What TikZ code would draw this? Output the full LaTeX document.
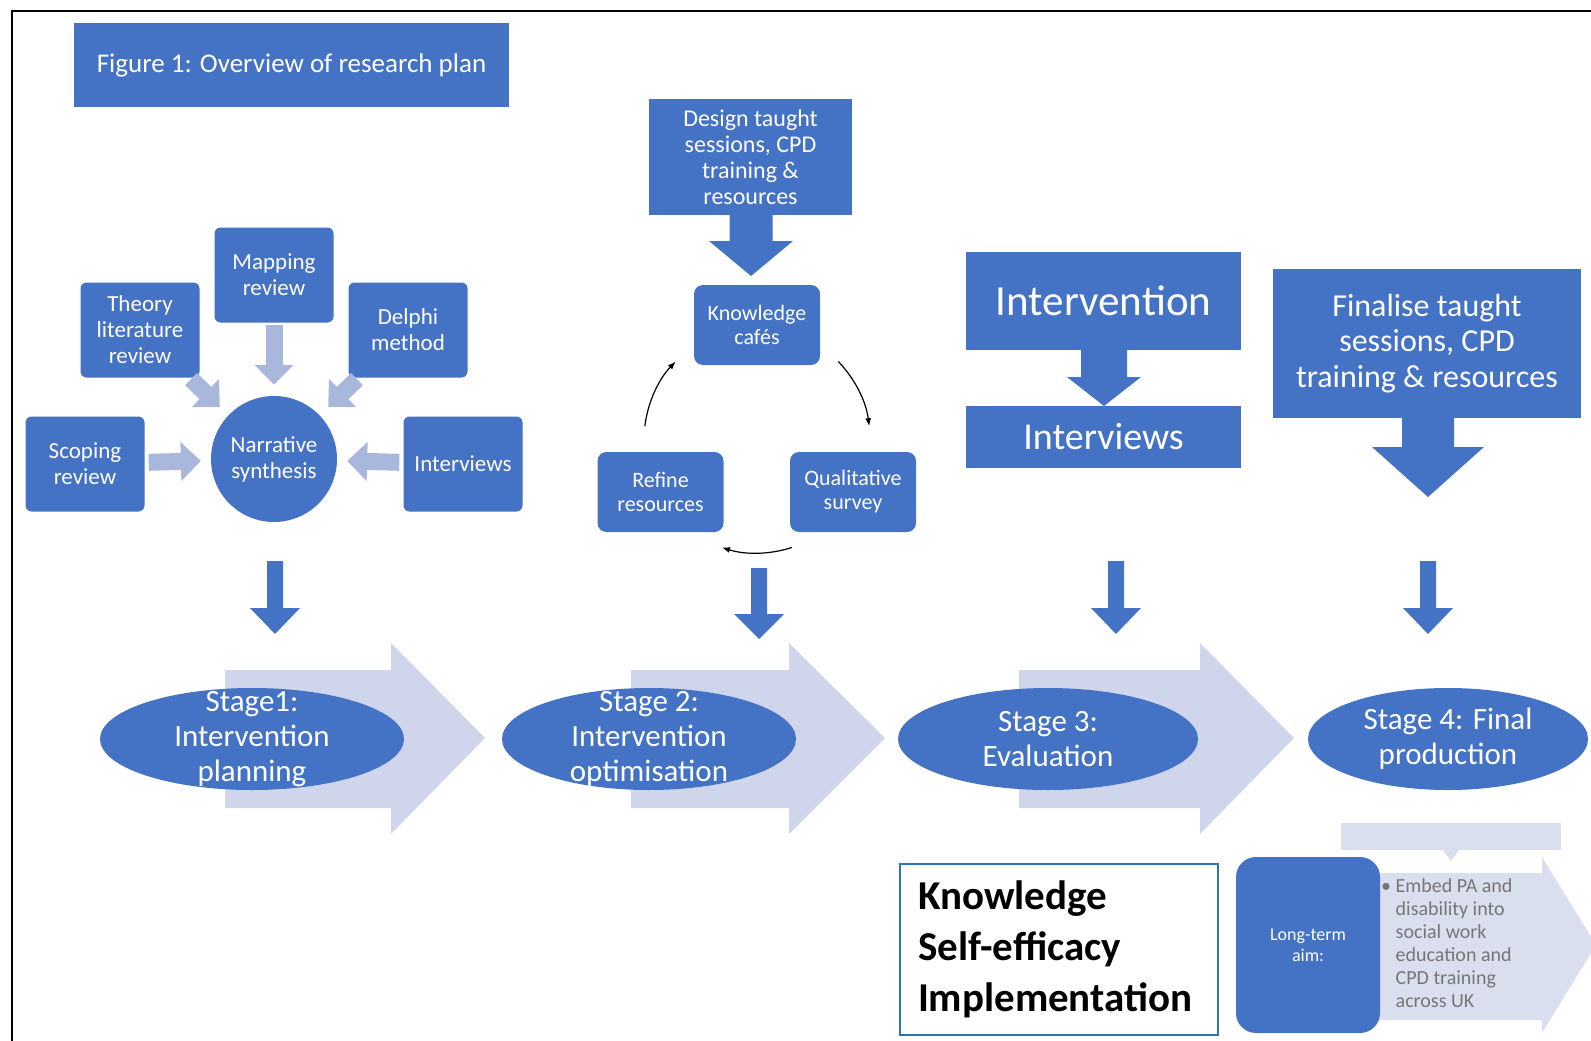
\documentclass[tikz,border=0pt]{standalone}
\usepackage{fontspec}
\setmainfont{Carlito}
\usetikzlibrary{shapes.geometric,arrows.meta}
\definecolor{blau}{RGB}{68,114,196}
\definecolor{grau}{RGB}{170,183,221}
\definecolor{hell}{RGB}{207,213,234}
\definecolor{hellblass}{RGB}{218,223,240}
\definecolor{rahmen}{RGB}{46,117,182}
\definecolor{textgrau}{RGB}{118,118,118}

\def\gr#1#2{\fontsize{#1pt}{#2pt}\selectfont}
% x, top, head start, tip, shaft half width, head half width
\def\blockpfeil#1#2#3#4#5#6{
	\fill[blau] ({#1-#5},#2) -- ({#1+#5},#2) -- ({#1+#5},#3) -- ({#1+#6},#3)
		-- (#1,#4) -- ({#1-#6},#3) -- ({#1-#5},#3) -- cycle;
}
% body start, head start, tip
\def\stufe#1#2#3{
	\fill[hell] (#1,670) -- (#2,670) -- (#2,643) -- (#3,738) -- (#2,834)
		-- (#2,808) -- (#1,808) -- cycle;
}

\begin{document}
\begin{tikzpicture}[x=1pt,y=-1pt,
	box/.style={fill=blau,text=white,align=center,inner sep=0pt},
	kbox/.style={box,rounded corners=6pt,minimum width=119pt,minimum height=95pt,font={\gr{23}{26}}},
	zbox/.style={box,rounded corners=9pt,minimum width=126pt,minimum height=80pt,font={\gr{22}{24}}},
	stage/.style={ellipse,fill=blau,inner sep=0pt,minimum height=102pt},
	stagetext/.style={text=white,align=center,inner sep=0pt,font={\gr{31}{35}}},
	zulauf/.style={grau,line width=17pt,-{Triangle[width=38pt,length=20pt]}},
	zyklus/.style={black,line width=1.2pt,-{Latex[length=8pt,width=6pt]}}]
\useasboundingbox (0,0) rectangle (1591,1041);
\clip (0,0) rectangle (1591,1041);
\draw[line width=2.5pt] (12,1041) -- (12,11) -- (1591,11);

\node[box,minimum width=435pt,minimum height=84pt,font={\gr{27}{30}}] (titel) at (291.5,65) {Figure 1: Overview of research plan};

% stage 1
\node[kbox] (mapping) at (274,275) {Mapping\\review};
\node[kbox] (theorie) at (140,330) {Theory\\literature\\review};
\node[kbox] (delphi) at (408,330) {Delphi\\method};
\node[kbox] (scoping) at (85,464) {Scoping\\review};
\node[kbox] (interviews) at (463,464) {Interviews};
\node[circle,fill=blau,text=white,minimum size=126pt,inner sep=0pt,align=center,font={\gr{23}{26}}] (narr) at (274,459) {Narrative\\synthesis};
\draw[zulauf,shorten <=2pt,shorten >=11pt] (mapping) -- (narr);
\draw[zulauf,shorten <=2pt,shorten >=12pt] (theorie) -- (narr);
\draw[zulauf,shorten <=2pt,shorten >=12pt] (delphi) -- (narr);
\draw[zulauf,shorten <=4pt,shorten >=10pt] (scoping) -- (narr);
\draw[zulauf,shorten <=4pt,shorten >=10pt] (interviews) -- (narr);

% stage 2
\node[box,minimum width=203pt,minimum height=116pt,font={\gr{24}{26}}] (design) at (750.5,157) {Design taught\\sessions, CPD\\training \&\\resources};
\blockpfeil{751}{214}{241}{276}{21.5}{42}
\node[zbox] (cafes) at (757,325) {Knowledge\\cafés};
\node[zbox] (refine) at (660.5,492) {Refine\\resources};
\node[zbox] (qual) at (853,492) {Qualitative\\survey};
\coordinate (hub) at (757,440);
\foreach \a/\b in {-44/-7, 72/108, 187/224}{
	\draw[zyklus] (hub) ++(\a:113) arc[start angle=\a,end angle=\b,radius=113];
}

% stage 3
\node[box,minimum width=275pt,minimum height=98pt,font={\gr{43}{46}}] (intervention) at (1103.5,301) {Intervention};
\node[box,minimum width=275pt,minimum height=62pt,font={\gr{38}{40}}] (interviews2) at (1103.5,437) {Interviews};
\blockpfeil{1104}{349}{377}{406}{23}{37}

% stage 4
\node[box,minimum width=308pt,minimum height=149pt,font={\gr{32}{35.5}}] (finalise) at (1427,343.5) {Finalise taught\\sessions, CPD\\training \& resources};
\blockpfeil{1428}{417}{447}{497}{26}{56}

% down arrows and stage arrows
\foreach \x/\ya/\yb/\yc in {275/561/608/634, 759/568/614/639, 1116/561/608/634, 1428/561/608/634}{
	\blockpfeil{\x}{\ya}{\yb}{\yc}{8}{25}
}
\foreach \xa/\xb/\xc in {225/391/485, 631/789/885, 1019/1200/1294}{
	\stufe{\xa}{\xb}{\xc}
}
\node[stage,minimum width=304pt] (st1) at (252,739) {};
\node[stage,minimum width=294pt] (st2) at (649,739) {};
\node[stage,minimum width=300pt] (st3) at (1048,739) {};
\node[stage,minimum width=280pt] (st4) at (1448,739) {};
\node[stagetext] (st1text) at (st1) {Stage1:\\Intervention\\planning};
\node[stagetext] (st2text) at (st2) {Stage 2:\\Intervention\\optimisation};
\node[stagetext] (st3text) at (st3) {Stage 3:\\Evaluation};
\node[stagetext] (st4text) at (st4) {Stage 4: Final\\production};

% outcomes
\node[draw=rahmen,line width=1.5pt,fill=white,text width=282pt,inner xsep=18pt,inner ysep=0pt,align=left,minimum height=171pt,font={\bfseries\gr{41}{51}}] (ziele) at (1059,949.5) {Knowledge\\Self-efficacy\\Implementation};

% long-term aim
\fill[hellblass] (1360,873) -- (1542,873) -- (1542,857) -- (1596,945) -- (1542,1033) -- (1542,1020) -- (1360,1020) -- cycle;
\fill[hellblass] (1341,823) rectangle (1561,850);
\fill[hellblass] (1443,850) -- (1459,850) -- (1451,861) -- cycle;
\node[box,rounded corners=20pt,minimum width=144pt,minimum height=176pt,font={\gr{18}{21}}] (aim) at (1308,945) {Long-term\\aim:};
\node[anchor=north west,align=left,text=textgrau,inner sep=0pt,font={\gr{20}{23}}] (embed) at (1381,878) {\textbullet\ Embed PA and\\\phantom{\textbullet\ }disability into\\\phantom{\textbullet\ }social work\\\phantom{\textbullet\ }education and\\\phantom{\textbullet\ }CPD training\\\phantom{\textbullet\ }across UK};
\end{tikzpicture}
\end{document}
